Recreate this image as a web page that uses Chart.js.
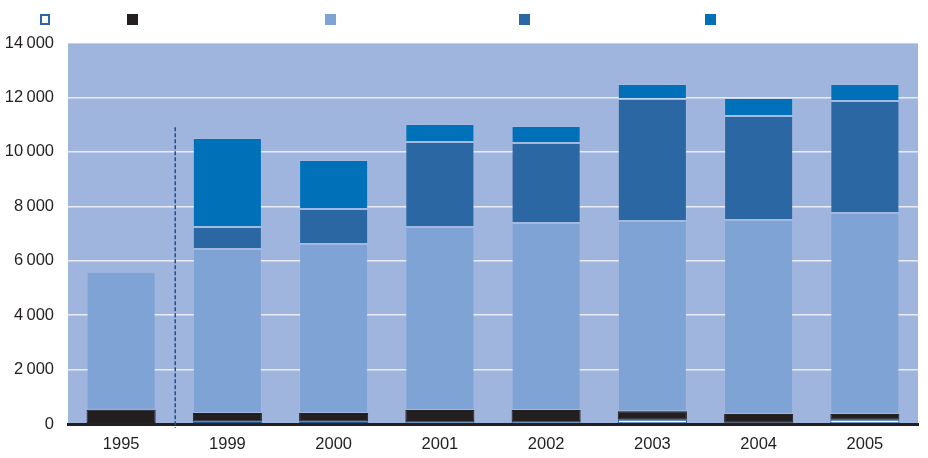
<!DOCTYPE html>
<html lang="en">
<head>
    <title>Stacked bars</title>
    <script src="https://cdn.jsdelivr.net/npm/chart.js"></script>
    <style>
        body { margin: 0; background: #fff; }
        #wrap { position: relative; width: 928px; height: 458px; }
        .key { position: absolute; top: 14px; width: 11px; height: 11px; }
    </style>
</head>
<body>
<div id="wrap">
    <div class="key" style="left:40px; background:#fff; border:2px solid #2a66a8; width:6px; height:7px;"></div>
    <div class="key" style="left:127px; background:#231f20;"></div>
    <div class="key" style="left:325px; background:#80a3d5;"></div>
    <div class="key" style="left:519px; background:#2b68a3;"></div>
    <div class="key" style="left:705px; background:#0071b9;"></div>
    <canvas id="chart" width="928" height="458"></canvas>
</div>

<script>
    var years = ["1995", "1999", "2000", "2001", "2002", "2003", "2004", "2005"];
    var whiteVals = [40, 90, 90, 110, 110, 160, 50, 160];
    var blackVals = [480, 310, 310, 400, 400, 310, 320, 210];
    var lightVals = [5070, 6030, 6210, 6730, 6880, 6990, 7130, 7380];
    var midVals = [0, 810, 1290, 3120, 2940, 4480, 3820, 4120];
    var brightVals = [0, 3270, 1800, 660, 620, 550, 660, 620];
    var yTicks = [0, 2000, 4000, 6000, 8000, 10000, 12000, 14000];

    var plotBg = {
        id: "plotBg",
        beforeDraw: function(chart) {
            var a = chart.chartArea;
            var ctx = chart.ctx;
            ctx.save();
            ctx.fillStyle = "#9fb5dd";
            ctx.fillRect(a.left, a.top, a.right - a.left, a.bottom - a.top);
            ctx.restore();
        }
    };

    var divider = {
        id: "divider",
        afterDatasetsDraw: function(chart) {
            var x = chart.scales.x;
            var y = chart.scales.y;
            var px = (x.getPixelForTick(0) + x.getPixelForTick(1)) / 2 + 1;
            var ctx = chart.ctx;
            ctx.save();
            ctx.strokeStyle = "#1f4f88";
            ctx.lineWidth = 1.5;
            ctx.setLineDash([4, 2]);
            ctx.beginPath();
            ctx.moveTo(px, y.getPixelForValue(10900));
            ctx.lineTo(px, y.getPixelForValue(0) + 4);
            ctx.stroke();
            ctx.restore();
        }
    };

    function ds(data, color, border) {
        return {
            data: data,
            backgroundColor: color,
            borderColor: border,
            borderWidth: 1,
            borderSkipped: false,
            barPercentage: 0.65,
            categoryPercentage: 1
        };
    }

    var ctx = document.getElementById("chart").getContext("2d");
    var myChart = new Chart(ctx, {
        type: "bar",
        data: {
            labels: years,
            datasets: [
                ds(whiteVals, "#ffffff", "#1f5a98"),
                ds(blackVals, "#231f20", "#231f20"),
                ds(lightVals, "#80a3d5", "rgba(255,255,255,0.06)"),
                ds(midVals, "#2b68a3", "rgba(255,255,255,0.06)"),
                ds(brightVals, "#0071b9", "rgba(255,255,255,0.06)")
            ]
        },
        options: {
            responsive: false,
            animation: false,
            layout: { padding: { top: 43, right: 10, left: 0, bottom: 0 } },
            plugins: {
                legend: { display: false },
                tooltip: { enabled: false }
            },
            scales: {
                x: {
                    stacked: true,
                    grid: { display: false },
                    border: { color: "#231f20", width: 3 },
                    ticks: {
                        color: "#231f20",
                        font: { family: "Liberation Sans", size: 16.5 },
                        padding: 3
                    },
                    afterFit: function(s) { s.height = 34; }
                },
                y: {
                    stacked: true,
                    min: 0,
                    max: 14000,
                    afterBuildTicks: function(s) {
                        s.ticks = yTicks.map(function(v) { return { value: v }; });
                    },
                    grid: { color: "rgba(255,255,255,0.75)", lineWidth: 1.5, drawTicks: false },
                    border: { display: false },
                    ticks: {
                        color: "#231f20",
                        font: { family: "Liberation Sans", size: 16.5 },
                        padding: 14,
                        callback: function(v) {
                            return v >= 1000 ? Math.floor(v / 1000) + "\u2009" + String(v % 1000).padStart(3, "0") : String(v);
                        }
                    },
                    afterFit: function(s) { s.width = 68; }
                }
            }
        },
        plugins: [plotBg, divider]
    });
</script>
</body>
</html>
